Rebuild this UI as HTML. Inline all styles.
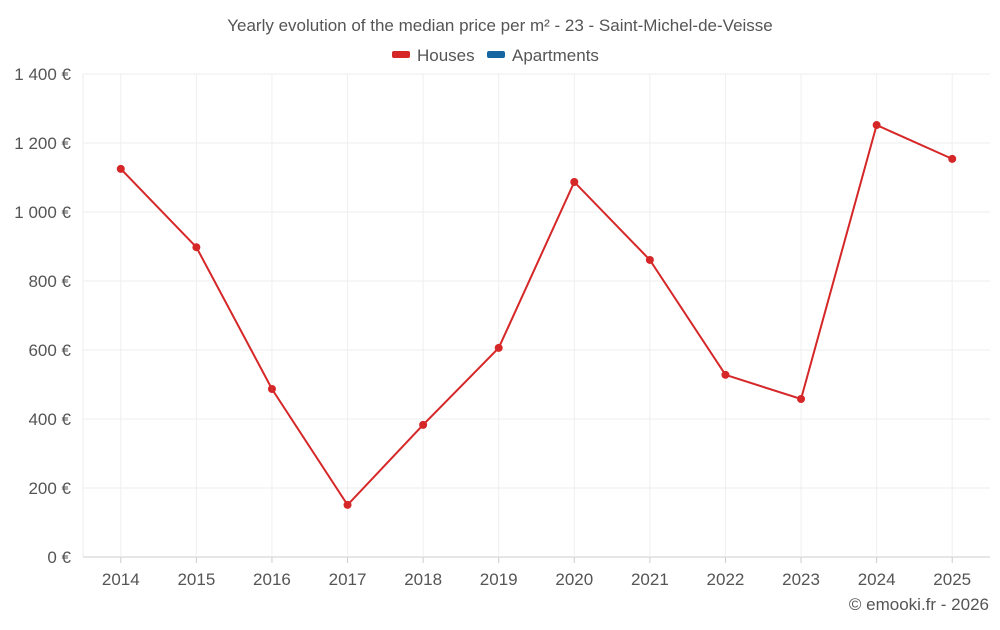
<!DOCTYPE html>
<html><head><meta charset="utf-8"><style>
body{margin:0;background:#fff;font-family:"Liberation Sans",sans-serif;}
svg text{font-family:"Liberation Sans",sans-serif;fill:#555;}
</style></head><body>
<svg id="chart" width="1000" height="625">
<text x="500" y="31" text-anchor="middle" font-size="17">Yearly evolution of the median price per m² - 23 - Saint-Michel-de-Veisse</text>
<g>
<rect x="392" y="51" width="18" height="7" rx="2" fill="#d62728"/>
<text x="417" y="61" font-size="17">Houses</text>
<rect x="487" y="51" width="18" height="7" rx="2" fill="#1565a0"/>
<text x="512" y="61" font-size="17">Apartments</text>
</g>
<g id="grid"></g><g id="axes"></g><g id="series"></g>
<text x="989" y="610" text-anchor="end" font-size="17">© emooki.fr - 2026</text>
</svg>
<script>
const categories=["2014","2015","2016","2017","2018","2019","2020","2021","2022","2023","2024","2025"];
const houses=[1125,898,487,151,383,606,1087,861,528,458,1252,1154];
const yTicks=[0,200,400,600,800,1000,1200,1400];
const yLabels=["0 €","200 €","400 €","600 €","800 €","1 000 €","1 200 €","1 400 €"];
const L=83,R=990,T=74,B=557,yMax=1400;
const bw=(R-L)/categories.length;
const x=i=>L+bw*(i+0.5);
const y=v=>B-(v/yMax)*(B-T);
const NS="http://www.w3.org/2000/svg";
function mk(tag,attrs,parent){const e=document.createElementNS(NS,tag);for(const k in attrs)e.setAttribute(k,attrs[k]);parent.appendChild(e);return e;}
const grid=document.getElementById('grid'),axes=document.getElementById('axes'),ser=document.getElementById('series');
yTicks.forEach((t,i)=>{
 const l=mk('line',{x1:L,x2:R,y1:y(t),y2:y(t),stroke:i==0?'#ccc':'#ececec'},grid);
 
 
 const tx=mk('text',{x:71,y:y(t)+6,'text-anchor':'end','font-size':17},axes);
 tx.textContent=yLabels[i];
 
 
});
const edge=mk('line',{x1:L,x2:L,y1:T,y2:B,stroke:'#ececec'},grid);


categories.forEach((c,i)=>{
 const g=mk('line',{x1:x(i),x2:x(i),y1:T,y2:B,stroke:'#efefef'},grid);
 
 
 const tk=mk('line',{x1:x(i),x2:x(i),y1:B,y2:B+6,stroke:'#ccc'},axes);
 
 
 const tx=mk('text',{x:x(i),y:585,'text-anchor':'middle','font-size':17},axes);
 tx.textContent=c;
 
 
});
const pl=mk('polyline',{points:houses.map((v,i)=>x(i)+','+y(v)).join(' '),fill:'none',stroke:'#d62728','stroke-width':2},ser);


houses.forEach((v,i)=>{
 const c=mk('circle',{cx:x(i),cy:y(v),r:4,fill:'#d62728'},ser);
 
 
});
</script>
</body></html>
